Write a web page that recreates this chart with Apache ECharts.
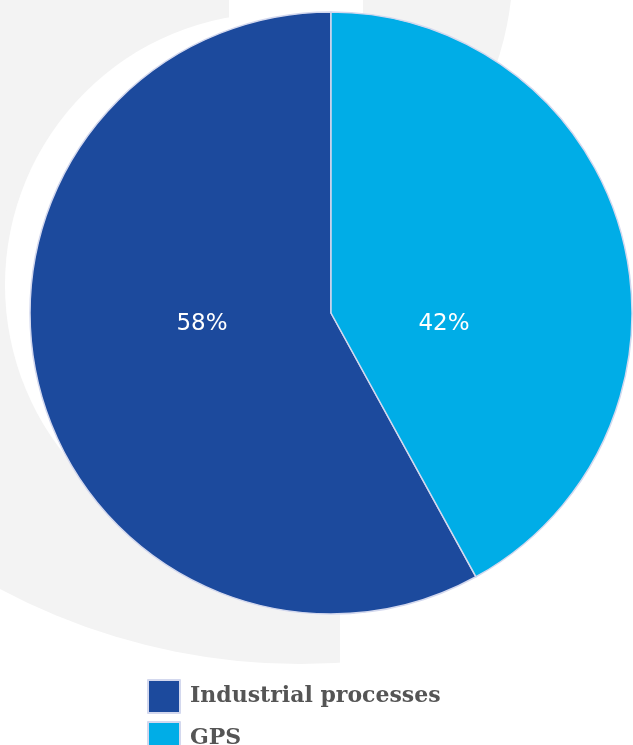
<!DOCTYPE html>
<html>
<head>
<meta charset="utf-8">
<script src="https://cdn.jsdelivr.net/npm/echarts@6/dist/echarts.min.js"></script>
<style>
html,body{margin:0;padding:0;background:#fff;}
#chart{width:633px;height:745px;}
</style>
</head>
<body>
<div id="chart"></div>
<script>
var categories = ['Industrial processes', 'GPS'];
var values = [58, 42];
var colors = ['#1c4a9d', '#00ade7'];

var chart = echarts.init(document.getElementById('chart'), null, {renderer: 'canvas'});
var CX = 331, CY = 313, R = 301;
var labelX = [CX - 129, CX + 113];

var gray = '#f3f3f3';
var option = {
  backgroundColor: '#ffffff',
  animation: false,
  graphic: [
    {type: 'circle', z: 0, silent: true, shape: {cx: 300, cy: 27, r: 637}, style: {fill: gray}},
    {type: 'rect', z: 0, silent: true, shape: {x: 340, y: 0, width: 300, height: 745}, style: {fill: '#fff'}},
    {type: 'circle', z: 0, silent: true, shape: {cx: 200, cy: -36, r: 313}, style: {fill: gray}},
    {type: 'circle', z: 0, silent: true, shape: {cx: 277, cy: 285, r: 272}, style: {fill: '#fff'}},
    {type: 'rect', z: 0, silent: true, shape: {x: 229, y: 0, width: 134, height: 20}, style: {fill: '#fff'}}
  ],
  legend: {
    orient: 'vertical',
    left: 142,
    top: 674,
    height: 120,
    itemWidth: 32,
    itemHeight: 33,
    itemGap: 7,
    icon: 'rect',
    data: categories,
    textStyle: {
      fontFamily: 'DejaVu Serif',
      fontSize: 22,
      fontWeight: 'bold',
      color: '#555555',
      padding: [0, 0, 0, 5]
    }
  },
  series: [{
    type: 'pie',
    center: [CX, CY],
    radius: [0, R],
    startAngle: 90,
    clockwise: false,
    z: 5,
    itemStyle: {borderColor: '#d3d8ee', borderWidth: 1.5},
    label: {
      show: true,
      position: 'inside',
      formatter: '{c}%',
      color: '#ffffff',
      fontFamily: 'DejaVu Sans',
      fontSize: 23,
      fontWeight: 'normal'
    },
    labelLayout: function (params) {
      return {x: labelX[params.dataIndex], y: CY + 11, align: 'center', verticalAlign: 'middle'};
    },
    emphasis: {disabled: true},
    data: categories.map(function (c, i) {
      return {name: c, value: values[i], itemStyle: {color: colors[i]}};
    })
  }]
};
chart.setOption(option);
</script>
</body>
</html>
